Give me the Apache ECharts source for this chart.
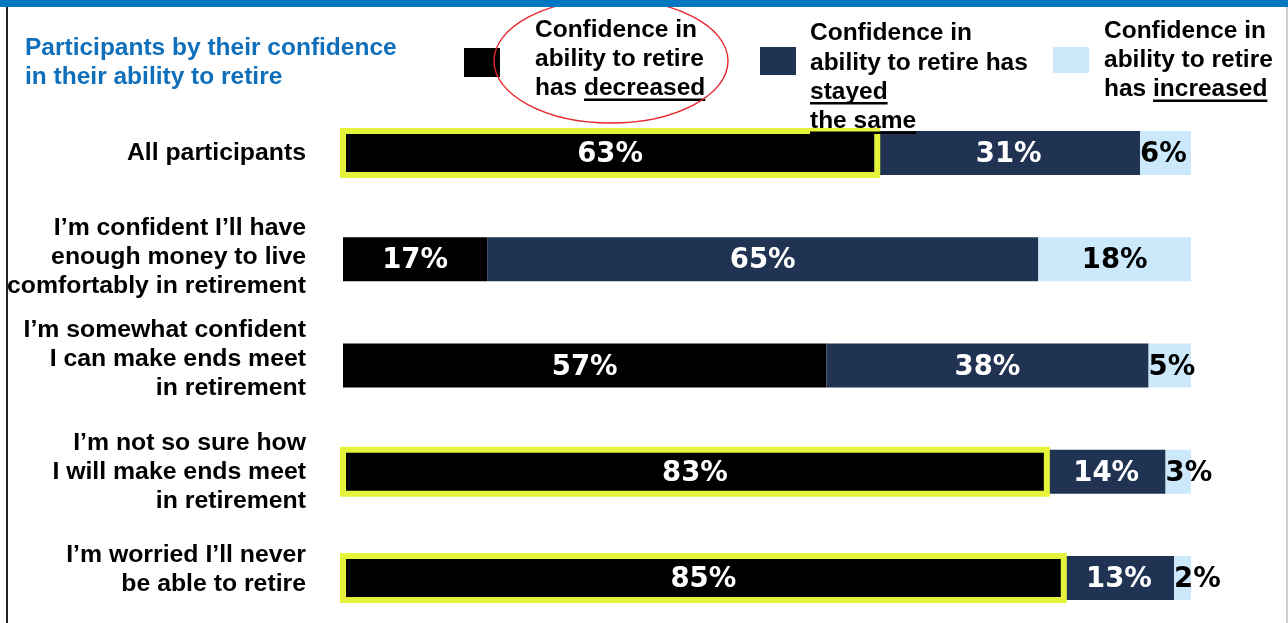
<!DOCTYPE html>
<html>
<head>
<meta charset="utf-8">
<script src="https://cdn.jsdelivr.net/npm/echarts@6/dist/echarts.min.js"></script>
<style>
  html, body { margin: 0; padding: 0; background: #fff; }
  #chart { width: 1288px; height: 623px; }
</style>
</head>
<body>
<div id="chart"></div>
<script>
// Survey rows, top to bottom
const categories = [
  'All participants',
  'I’m confident I’ll have\nenough money to live\ncomfortably in retirement',
  'I’m somewhat confident\nI can make ends meet\nin retirement',
  'I’m not so sure how\nI will make ends meet\nin retirement',
  'I’m worried I’ll never\nbe able to retire'
];

// Share of participants (%) in each confidence-change group
const decreased  = [63, 17, 57, 83, 85];
const stayedSame = [31, 65, 38, 14, 13];
const increased  = [6, 18, 5, 3, 2];

// Rows whose "decreased" bar gets a highlight frame
const highlighted = [true, false, false, true, true];

const seriesNames = [
  'Confidence in ability to retire has decreased',
  'Confidence in ability to retire has stayed the same',
  'Confidence in ability to retire has increased'
];

const titleText = 'Participants by their confidence\nin their ability to retire';

// ---- styling ----
const FAMILY = '"Liberation Sans", Arial, sans-serif';
const TXT = 24.5;
const ROW_TXT = 24.8;
const COLORS = ['#000000', '#203353', '#cce9fb'];
const HIGHLIGHT = '#e5f43a';
const labelLift = [0, 2.5, 6.5, 0, 8.5];   // nudges multi-line row labels upward

const valueFont = { fontFamily: 'DejaVu Sans', fontWeight: 'bold', fontSize: 27.5 };

const measureCtx = document.createElement('canvas').getContext('2d');
measureCtx.font = 'bold ' + TXT + 'px "Liberation Sans"';
const textW = s => measureCtx.measureText(s).width;

function rowLabel(value, idx) {
  const lines = value.split('\n').map(l => '{t|' + l + '}');
  if (labelLift[idx] > 0) lines.push('{g' + idx + '| }');
  return lines.join('\n');
}

const rowRich = {
  t: { fontFamily: FAMILY, fontWeight: 'bold', fontSize: ROW_TXT, lineHeight: 29, color: '#000', align: 'right' }
};
labelLift.forEach((lift, i) => {
  rowRich['g' + i] = { fontSize: 1, lineHeight: Math.max(1, lift * 2), align: 'right' };
});

// legend blocks: swatch + lines of segments (some underlined)
const legendBlocks = [
  { swatch: [464, 48, 36, 29], color: COLORS[0], x: 535, y0: 30,
    lines: [[['Confidence in', false]], [['ability to retire', false]], [['has ', false], ['decreased', true]]] },
  { swatch: [760, 47, 36, 28], color: COLORS[1], x: 810, y0: 33.5,
    lines: [[['Confidence in', false]], [['ability to retire has', false]], [['stayed', true]], [['the same', true]]] },
  { swatch: [1053, 47, 36, 26], color: COLORS[2], x: 1104, y0: 31,
    lines: [[['Confidence in', false]], [['ability to retire', false]], [['has ', false], ['increased', true]]] }
];
const LEGEND_LH = 29.3;

const graphics = [];
legendBlocks.forEach(b => {
  graphics.push({ type: 'rect', z: 20, shape: { x: b.swatch[0], y: b.swatch[1], width: b.swatch[2], height: b.swatch[3] },
    style: { fill: b.color } });
  b.lines.forEach((segs, li) => {
    const y = b.y0 + li * LEGEND_LH;
    let x = b.x;
    segs.forEach(([txt, ul]) => {
      graphics.push({ type: 'text', z: 20, x: x, y: y,
        style: { text: txt, fontFamily: FAMILY, fontWeight: 'bold', fontSize: TXT, fill: '#000',
                 align: 'left', verticalAlign: 'middle' } });
      const w = textW(txt);
      if (ul) {
        graphics.push({ type: 'rect', z: 21, shape: { x: x, y: y + 10, width: w, height: 2.5 }, style: { fill: '#000' } });
      }
      x += w;
    });
  });
});

// frame: blue top band, left rule, right hairline, red ellipse round the first legend entry
graphics.push(
  { type: 'ellipse', z: 25, shape: { cx: 611, cy: 61, rx: 117, ry: 62 },
    style: { fill: 'none', stroke: '#e8262b', lineWidth: 1.4 } },
  { type: 'rect', z: 30, shape: { x: 6, y: 0, width: 2, height: 623 }, style: { fill: '#222' } },
  { type: 'rect', z: 30, shape: { x: 1286.5, y: 0, width: 1, height: 623 }, style: { fill: '#9a9a9a' } },
  { type: 'rect', z: 40, shape: { x: 0, y: 0, width: 1288, height: 7 }, style: { fill: '#0077c0' } }
);

const BAR_H = 44;
const LABEL_OFFSET = [0, 2];

const chart = echarts.init(document.getElementById('chart'), null, { renderer: 'canvas' });

chart.setOption({
  animation: false,
  backgroundColor: '#ffffff',
  title: {
    text: titleText,
    left: 25, top: 34, padding: 0,
    textStyle: { fontFamily: FAMILY, fontWeight: 'bold', fontSize: TXT, lineHeight: 28.5, color: '#0f6fba' }
  },
  grid: { left: 343, right: 97, top: 100, height: 531, outerBoundsMode: 'none', containLabel: false },
  xAxis: { type: 'value', min: 0, max: 100, show: false },
  yAxis: {
    type: 'category', inverse: true, data: categories,
    axisLine: { show: false }, axisTick: { show: false }, splitLine: { show: false },
    axisLabel: { margin: 37, align: 'right', formatter: rowLabel, rich: rowRich }
  },
  graphic: graphics,
  series: [
    {
      name: seriesNames[0], type: 'bar', stack: 'share', barWidth: BAR_H, z: 2,
      itemStyle: { color: COLORS[0] },
      label: { show: true, position: 'inside', offset: LABEL_OFFSET, color: '#fff', ...valueFont, formatter: '{c}%' },
      data: decreased
    },
    {
      name: seriesNames[1], type: 'bar', stack: 'share', barWidth: BAR_H, z: 2,
      itemStyle: { color: COLORS[1] },
      label: { show: true, position: 'inside', offset: LABEL_OFFSET, color: '#fff', ...valueFont, formatter: '{c}%' },
      data: stayedSame
    },
    {
      name: seriesNames[2], type: 'bar', stack: 'share', barWidth: BAR_H, z: 2,
      itemStyle: { color: COLORS[2] },
      label: { show: true, position: 'inside', offset: LABEL_OFFSET, color: '#000', ...valueFont, formatter: '{c}%' },
      data: increased.map(v => v < 10
        ? { value: v, label: { position: 'insideLeft', distance: 0 } }
        : { value: v })
    },
    {
      // highlight frame around the "decreased" segment of selected rows
      name: 'highlight', type: 'custom', z: 5, silent: true,
      encode: { x: 0, y: 1 },
      data: decreased.map((v, i) => [v, i, highlighted[i] ? 1 : 0]),
      renderItem: function (params, api) {
        if (!api.value(2)) return null;
        const p0 = api.coord([0, api.value(1)]);
        const p1 = api.coord([api.value(0), api.value(1)]);
        return {
          type: 'rect',
          shape: { x: p0[0], y: p0[1] - BAR_H / 2, width: p1[0] - p0[0], height: BAR_H },
          style: { fill: 'none', stroke: HIGHLIGHT, lineWidth: 6 }
        };
      }
    }
  ]
});
</script>
</body>
</html>
